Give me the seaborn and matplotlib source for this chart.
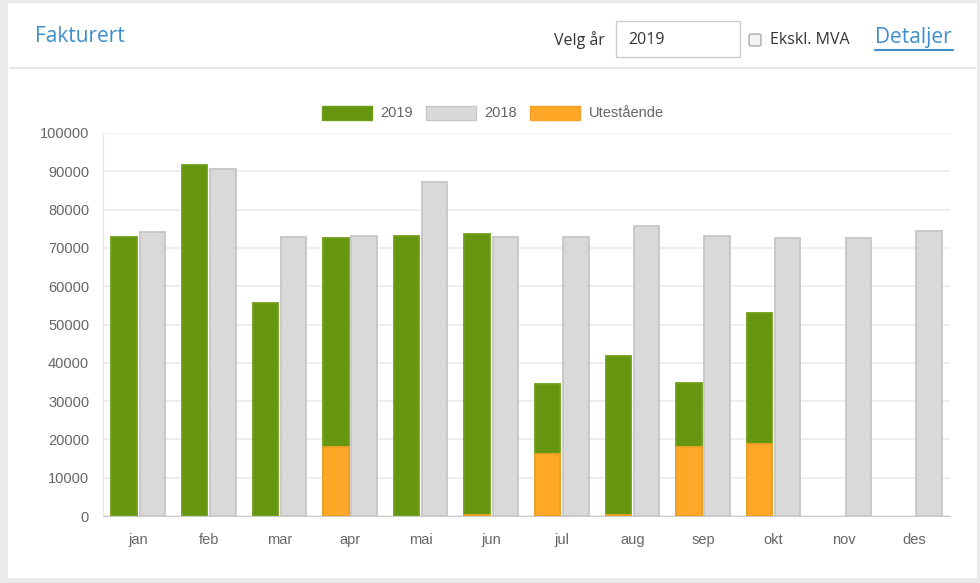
import matplotlib.pyplot as plt
import matplotlib.patches as mpatches
import seaborn as sns
import pandas as pd
import numpy as np

# data
months = ["jan", "feb", "mar", "apr", "mai", "jun", "jul", "aug", "sep", "okt", "nov", "des"]
val_2019 = [72900, 91700, 55500, 72700, 73100, 73500, 34400, 41700, 34600, 53000, 0, 0]
val_2018 = [74200, 90500, 72900, 73100, 87100, 72800, 72800, 75600, 73000, 72700, 72500, 74500]
utestaende = [0, 0, 0, 18100, 0, 300, 16200, 300, 18100, 18900, 0, 0]

green = "#66950f"
grey = "#d9d9d9"
orange = "#ffa726"

#%%
df = pd.DataFrame({
    "month": months * 2,
    "series": ["2019"] * 12 + ["2018"] * 12,
    "value": val_2019 + val_2018,
})
# the outstanding amount sits on the 2019 slot, the 2018 slot is left empty
df_out = pd.DataFrame({
    "month": months * 2,
    "series": ["2019"] * 12 + ["2018"] * 12,
    "value": utestaende + [np.nan] * 12,
})

sns.set_style("white")
plt.rcParams["font.family"] = ["Liberation Sans", "DejaVu Sans"]

fig = plt.figure(figsize=(9.8, 5.83), dpi=100)
fig.patch.set_facecolor("#ebebeb")

# white panel + header
panel = mpatches.Rectangle((8 / 980, 1 - 578 / 583), 969 / 980, 575 / 583,
                           transform=fig.transFigure, facecolor="white", edgecolor="none", zorder=-10)
fig.patches.append(panel)
fig.add_artist(plt.Line2D([10 / 980, 975 / 980], [1 - 68 / 583] * 2, transform=fig.transFigure,
                          color="#e2e2e2", lw=1.2))
fig.text(35 / 980, 1 - 36 / 583, "Fakturert", fontsize=15, color="#3d8fcc",
         family="Open Sans", va="center", ha="left")
fig.text(554 / 980, 1 - 40 / 583, "Velg år", fontsize=11.5, color="#333333",
         family="Open Sans", va="center", ha="left")
box = mpatches.Rectangle((616 / 980, 1 - 57 / 583), 124 / 980, 36 / 583, transform=fig.transFigure,
                         facecolor="white", edgecolor="#cccccc", lw=1)
fig.patches.append(box)
fig.text(628 / 980, 1 - 40 / 583, "2019", fontsize=11.5, color="#333333",
         family="Open Sans", va="center", ha="left")
chk = mpatches.FancyBboxPatch((749 / 980, 1 - 46 / 583), 12 / 980, 12 / 583,
                              boxstyle="round,pad=0,rounding_size=0.003", transform=fig.transFigure,
                              facecolor="#f4f4f4", edgecolor="#a8a8a8", lw=1)
fig.patches.append(chk)
fig.text(770 / 980, 1 - 40 / 583, "Ekskl. MVA", fontsize=11.5, color="#333333",
         family="Open Sans", va="center", ha="left")
fig.text(875 / 980, 1 - 38 / 583, "Detaljer", fontsize=15, color="#3d8fcc",
         family="Open Sans", va="center", ha="left")
fig.add_artist(plt.Line2D([875 / 980, 953 / 980], [1 - 50 / 583] * 2, transform=fig.transFigure,
                          color="#3d8fcc", lw=1.5))

#%% chart
ax = fig.add_axes([103 / 980, 1 - 516 / 583, 847 / 980, 383 / 583])
ax.set_facecolor("none")
sns.barplot(data=df, x="month", y="value", hue="series", hue_order=["2019", "2018"],
            palette={"2019": green, "2018": grey}, width=0.8, gap=0.1, ax=ax,
            saturation=1, legend=False, zorder=2)
sns.barplot(data=df_out, x="month", y="value", hue="series", hue_order=["2019", "2018"],
            palette={"2019": orange, "2018": orange}, width=0.8, gap=0.1, ax=ax,
            saturation=1, legend=False, zorder=3)

edge = {green: "#6f9f1a", grey: "#c6c6c6", orange: "#f0a028"}
for p in ax.patches:
    h = p.get_height()
    if h == 0 or np.isnan(h):
        p.set_visible(False)
        continue
    r, g, b, _ = p.get_facecolor()
    hexc = "#{:02x}{:02x}{:02x}".format(round(r * 255), round(g * 255), round(b * 255))
    p.set_edgecolor(edge.get(hexc, (r * 0.9, g * 0.9, b * 0.9)))
    p.set_linewidth(1.3)

ax.set_ylim(0, 100000)
ax.set_xlim(-0.5, 11.5)
ax.set_yticks(np.arange(0, 100001, 10000))
ax.yaxis.grid(True, color="#ebebeb", lw=1.2, zorder=0)
ax.set_axisbelow(True)
ax.set_xlabel("")
ax.set_ylabel("")
for s in ["top", "right"]:
    ax.spines[s].set_visible(False)
ax.spines["left"].set_color("#e6e6e6")
ax.spines["bottom"].set_color("#cccccc")
ax.tick_params(axis="both", labelsize=10.5, labelcolor="#666666", length=0)
ax.tick_params(axis="y", pad=10)
ax.tick_params(axis="x", pad=12)

handles = [mpatches.Patch(facecolor=green, edgecolor="#6f9f1a", label="2019"),
           mpatches.Patch(facecolor=grey, edgecolor="#c6c6c6", label="2018"),
           mpatches.Patch(facecolor=orange, edgecolor="#f0a028", label="Utestående")]
fig.legend(handles=handles, loc="center", bbox_to_anchor=(493 / 980, 1 - 113 / 583), ncol=3,
           frameon=False, fontsize=10.5, handlelength=3.4, handleheight=1.1, handletextpad=0.6,
           columnspacing=0.9, labelcolor="#666666")

fig.savefig("out.png", dpi=100, facecolor=fig.get_facecolor())
